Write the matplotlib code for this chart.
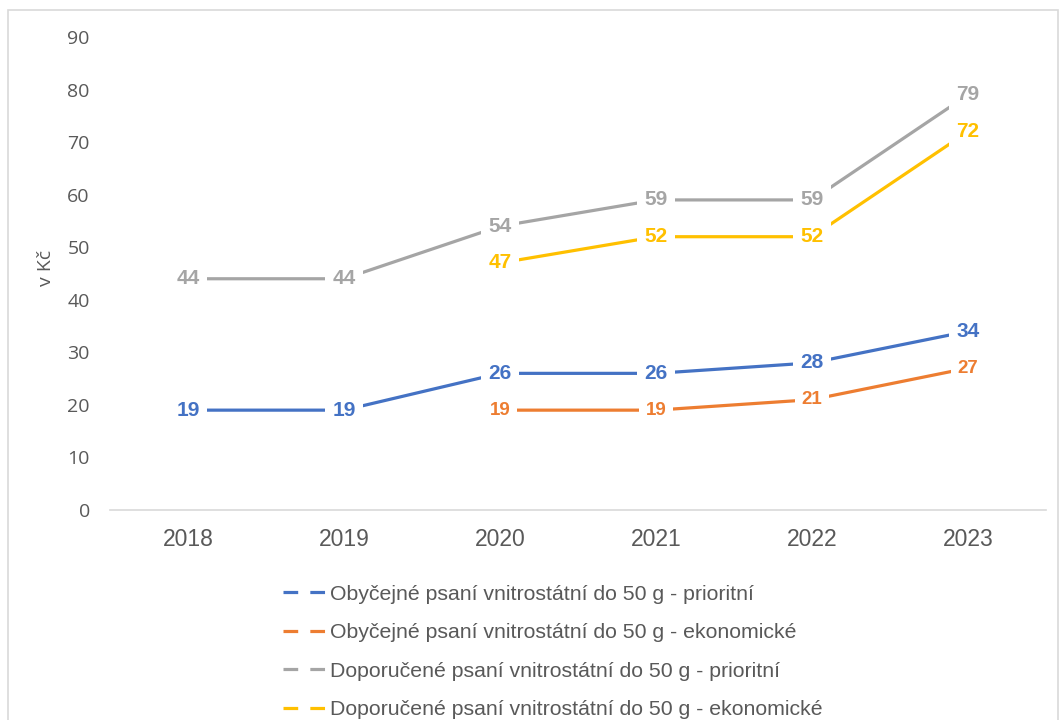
import numpy as np
import matplotlib.pyplot as plt
from matplotlib.lines import Line2D
from matplotlib.patches import Rectangle

years = ['2018', '2019', '2020', '2021', '2022', '2023']
obyc_prior = [19, 19, 26, 26, 28, 34]
obyc_ekon = [np.nan, np.nan, 19, 19, 21, 27]
dopor_prior = [44, 44, 54, 59, 59, 79]
dopor_ekon = [np.nan, np.nan, 47, 52, 52, 72]

names = ['Obyčejné psaní vnitrostátní do 50 g - prioritní',
         'Obyčejné psaní vnitrostátní do 50 g - ekonomické',
         'Doporučené psaní vnitrostátní do 50 g - prioritní',
         'Doporučené psaní vnitrostátní do 50 g - ekonomické']
colors = ['#4472C4', '#ED7D31', '#A5A5A5', '#FFC000']
series = [obyc_prior, obyc_ekon, dopor_prior, dopor_ekon]
label_sizes = [15, 13.5, 15, 15]

plt.rcParams['font.family'] = ['Liberation Sans', 'DejaVu Sans']

fig = plt.figure(figsize=(10.61, 7.2), dpi=100)
ax = fig.add_axes([110 / 1061, 1 - 510 / 720, 936 / 1061, 473 / 720])

# light frame around the whole chart
fig.patches.append(Rectangle((8 / 1061, -0.05), 1050 / 1061, 1 - 10 / 720 + 0.05,
                             transform=fig.transFigure, fill=False,
                             edgecolor='#D9D9D9', linewidth=1.2))

x = np.arange(len(years))
for vals, c, fs in zip(series, colors, label_sizes):
    ax.plot(x, vals, color=c, linewidth=2.3, solid_capstyle='butt', zorder=2)
    for xi, v in zip(x, vals):
        if np.isnan(v):
            continue
        ax.text(xi, v, f'{v:.0f}', color=c, fontsize=fs, fontweight='bold',
                ha='center', va='center', zorder=3,
                bbox=dict(boxstyle='square,pad=0.35', fc='white', ec='none'))

ax.set_xlim(-0.5, len(years) - 0.5)
ax.set_ylim(0, 90)
ax.set_yticks(range(0, 91, 10))
ax.set_xticks(x)
ax.set_xticklabels(years)
ax.tick_params(axis='x', length=0, labelsize=16.5, labelcolor='#595959', pad=13)
ax.tick_params(axis='y', length=0, labelsize=14, labelcolor='#595959', pad=14.5)
for t in ax.get_yticklabels():
    t.set_fontfamily(['Open Sans', 'DejaVu Sans'])
for s in ['top', 'right', 'left']:
    ax.spines[s].set_visible(False)
ax.spines['bottom'].set_color('#D9D9D9')
ax.spines['bottom'].set_linewidth(1.2)
fig.text(46 / 1061, 1 - 268 / 720, 'v Kč', rotation=90, ha='center', va='center',
         fontsize=14, color='#595959', family=['Open Sans', 'DejaVu Sans'])

handles = [Line2D([], [], color=c, linewidth=2.3, dashes=(4.6, 3.8)) for c in colors]
fig.legend(handles, names, loc='upper left', bbox_to_anchor=(272 / 1061, 1 - 574 / 720),
           frameon=False, fontsize=15.3, labelcolor='#595959', handlelength=2.1,
           handletextpad=0.15, labelspacing=0.92, borderpad=0)

fig.savefig('out.png', dpi=100)
